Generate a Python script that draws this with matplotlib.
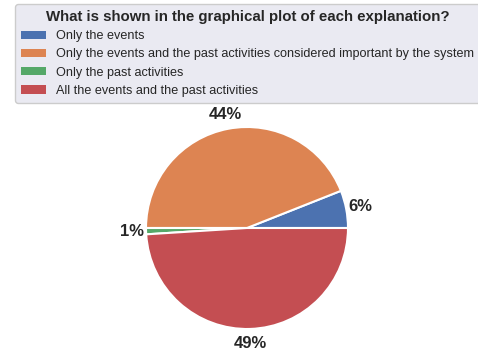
import matplotlib
matplotlib.use('Agg')
import matplotlib.pyplot as plt
from matplotlib.patches import Patch
import seaborn as sns

sns.set_theme()
plt.rcParams['font.family'] = ['Liberation Sans', 'DejaVu Sans']

TITLE = 'What is shown in the graphical plot of each explanation?'
LABELS = ['Only the events',
          'Only the events and the past activities considered important by the system',
          'Only the past activities',
          'All the events and the past activities']
VALUES = [6, 44, 1, 49]
COLORS = sns.color_palette('deep')[:4]

W, H = 478, 351
fig = plt.figure(figsize=(W / 100, H / 100), dpi=100)

# pie axes: centre ~ (247, 228) px, radius ~ 101 px
R = 101
cx, cy = 247, H - 228
half = 1.25 * R
ax = fig.add_axes([(cx - half) / W, (cy - half) / H, 2 * half / W, 2 * half / H])
wedges, texts, autotexts = ax.pie(VALUES, colors=COLORS, autopct='%1.0f%%',
                                  pctdistance=1.14, startangle=0,
                                  wedgeprops=dict(edgecolor='white', linewidth=1.5),
                                  textprops=dict(fontsize=12, fontweight='bold',
                                                 color='#262626'))
ax.set_xlim(-1.25, 1.25)
ax.set_ylim(-1.25, 1.25)
ax.set_aspect('equal')

# legend handles without the white wedge border
handles = [Patch(facecolor=c, edgecolor='none') for c in COLORS]
leg = fig.legend(handles, LABELS, title=TITLE, loc='upper left',
                 bbox_to_anchor=(15 / W, 1 - 4 / H), borderaxespad=0,
                 fontsize=9.1, title_fontproperties=dict(weight='bold', size=10.8),
                 frameon=True, facecolor='#EAEAF2', edgecolor='#cccccc',
                 labelspacing=0.5, handletextpad=0.8, borderpad=0.45,
                 handleheight=0.6)
leg.get_frame().set_alpha(1)

fig.savefig('out.png', dpi=100)
